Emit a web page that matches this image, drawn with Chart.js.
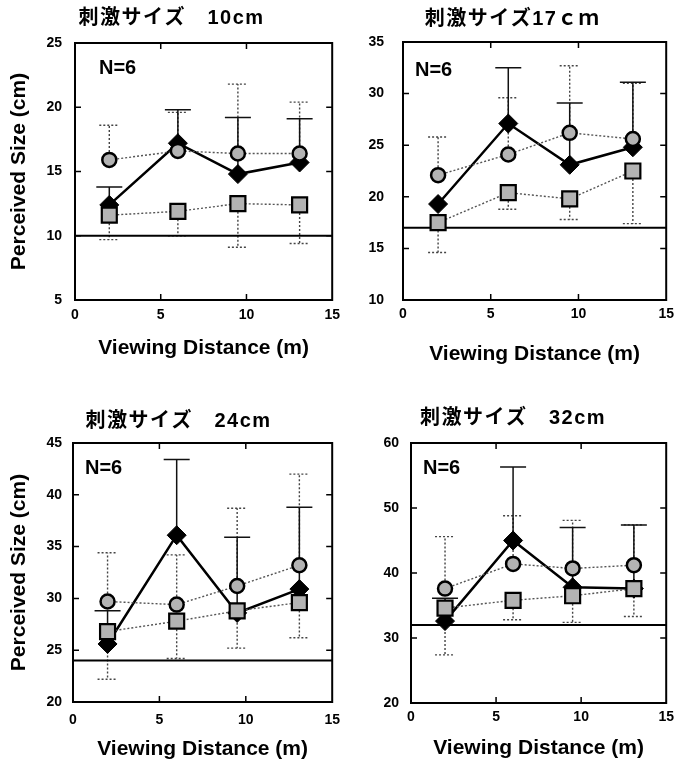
<!DOCTYPE html>
<html><head><meta charset="utf-8">
<script src="https://cdn.jsdelivr.net/npm/chart.js@4.4.1/dist/chart.umd.min.js"></script>
<style>
html,body{margin:0;padding:0;background:#fff;}
body{position:relative;width:679px;height:770px;overflow:hidden;}
canvas{position:absolute;}
</style></head><body>
<canvas id="c0" width="345" height="385" style="left:0px;top:0px"></canvas>
<canvas id="c1" width="334" height="385" style="left:345px;top:0px"></canvas>
<canvas id="c2" width="345" height="380" style="left:0px;top:390px"></canvas>
<canvas id="c3" width="334" height="380" style="left:345px;top:390px"></canvas>
<script>
// ---------------- data ----------------
const distances = [2.0, 6.0, 9.5, 13.1];
const stimulusSizes = [10, 17, 24, 32];
const panelTitles = ['刺激サイズ　10cm', '刺激サイズ17ｃｍ', '刺激サイズ　24cm', '刺激サイズ　32cm'];
const sampleLabel = 'N=6';
const xAxisTitle = 'Viewing Distance (m)';
const yAxisTitle = 'Perceived Size (cm)';
const xMin = 0, xMax = 15, xStep = 5;
const yMins = [5, 10, 20, 20];
const yMaxs = [25, 35, 45, 60];
const yStepSizes = [5, 5, 5, 10];

const circleMeans  = [[15.9, 16.6, 16.4, 16.4], [22.1, 24.1, 26.2, 25.6], [29.7, 29.4, 31.2, 33.2], [37.6, 41.4, 40.7, 41.2]];
const circleUpper  = [[18.6, 19.6, 21.8, 20.4], [25.8, 29.6, 32.7, 31.0], [34.4, 34.2, 38.7, 42.0], [45.6, 48.8, 48.1, 47.4]];
const diamondMeans = [[12.4, 17.2, 14.8, 15.7], [19.3, 27.1, 23.1, 24.8], [25.6, 36.1, 28.6, 30.9], [32.6, 45.0, 37.8, 37.6]];
const diamondUpper = [[13.8, 19.8, 19.2, 19.1], [null, 32.5, 29.1, 31.1], [28.8, 43.4, 35.9, 38.8], [36.1, 56.3, 47.0, 47.4]];
const squareMeans  = [[11.6, 11.9, 12.5, 12.4], [17.5, 20.4, 19.8, 22.5], [26.8, 27.8, 28.8, 29.6], [34.6, 35.8, 36.5, 37.6]];
const squareLower  = [[9.7, 10.0, 9.1, 9.4], [14.6, 18.8, 17.8, 17.4], [22.2, 24.2, 25.2, 26.2], [27.4, 32.8, 32.4, 33.3]];

// ---------------- layout (pixels) ----------------
const layouts = [
  {id:'c0', cx:0,   cy:0,   cw:345, ch:385, L:75,  R:335, T:43,  B:300, yTitle:true,  yPad:13, xPad:7,  xTitlePad:24, titleX:171.5, titleY:18.5, nX:24, nY:25},
  {id:'c1', cx:345, cy:0,   cw:334, ch:385, L:403, R:670, T:42,  B:300, yTitle:false, yPad:19, xPad:6,  xTitlePad:18, titleX:167.5, titleY:19.5, nX:12, nY:28},
  {id:'c2', cx:0,   cy:390, cw:345, ch:380, L:73,  R:333, T:443, B:702, yTitle:true,  yPad:11, xPad:10, xTitlePad:8.5, titleX:178.5, titleY:31.5, nX:12, nY:25},
  {id:'c3', cx:345, cy:390, cw:334, ch:380, L:411, R:675, T:443, B:703, yTitle:false, yPad:12, xPad:6,  xTitlePad:9.5, titleX:168,  titleY:28.5, nX:12, nY:25}
];

const FONT = '"Liberation Sans", Arial, "Noto Sans CJK JP", sans-serif';

const errorBarPlugin = {
  id: 'errorBars',
  beforeDatasetsDraw(chart) {
    const ctx = chart.ctx, xs = chart.scales.x, ys = chart.scales.y;
    ctx.save();
    chart.data.datasets.forEach(ds => {
      if (!ds.errorEnds) return;
      ds.data.forEach((p, j) => {
        const end = ds.errorEnds[j];
        if (end === null || end === undefined) return;
        const x = xs.getPixelForValue(p.x);
        const y0 = ys.getPixelForValue(p.y);
        const y1 = ys.getPixelForValue(end);
        ctx.strokeStyle = ds.errorColor;
        ctx.lineWidth = ds.errorWidth;
        ctx.setLineDash(ds.errorDash);
        ctx.beginPath();
        ctx.moveTo(x, y0); ctx.lineTo(x, y1);
        ctx.moveTo(x - ds.capHalf, y1); ctx.lineTo(x + ds.capHalf, y1);
        ctx.stroke();
      });
    });
    ctx.restore();
  }
};

const framePlugin = {
  id: 'frame',
  afterDraw(chart, args, opts) {
    const ctx = chart.ctx, a = chart.chartArea, xs = chart.scales.x, ys = chart.scales.y;
    ctx.save();
    ctx.strokeStyle = '#000';
    ctx.lineWidth = 2;
    ctx.setLineDash([]);
    ctx.strokeRect(a.left, a.top, a.right - a.left, a.bottom - a.top);
    ctx.lineWidth = 1.5;
    ctx.beginPath();
    ys.ticks.forEach(t => {
      if (t.value <= ys.min || t.value >= ys.max) return;
      const y = ys.getPixelForValue(t.value);
      ctx.moveTo(a.left, y); ctx.lineTo(a.left + 6, y);
      ctx.moveTo(a.right, y); ctx.lineTo(a.right - 6, y);
    });
    xs.ticks.forEach(t => {
      if (t.value <= xs.min || t.value >= xs.max) return;
      const x = xs.getPixelForValue(t.value);
      ctx.moveTo(x, a.top); ctx.lineTo(x, a.top + 6);
      ctx.moveTo(x, a.bottom); ctx.lineTo(x, a.bottom - 6);
    });
    ctx.stroke();
    // sample size label
    ctx.fillStyle = '#000';
    ctx.font = 'bold 20px ' + FONT;
    ctx.textAlign = 'left';
    ctx.textBaseline = 'middle';
    ctx.fillText(opts.nText, a.left + opts.nX, a.top + opts.nY);
    // panel title
    ctx.font = 'bold 20px ' + FONT;
    if ('letterSpacing' in ctx) ctx.letterSpacing = '1.5px';
    ctx.textAlign = 'center';
    ctx.fillText(opts.title, opts.titleX, opts.titleY);
    ctx.restore();
  }
};

layouts.forEach((lay, i) => {
  const pts = arr => arr.map((v, j) => ({x: distances[j], y: v}));
  const datasets = [
    { label: 'square', data: pts(squareMeans[i]), showLine: true,
      borderColor: '#555', borderWidth: 1.4, borderDash: [2, 2],
      pointStyle: 'rect', pointRadius: 10.6, pointBorderWidth: 2.2,
      pointBackgroundColor: '#b3b3b3', pointBorderColor: '#000',
      errorEnds: squareLower[i], errorColor: '#444', errorWidth: 1.4, errorDash: [2, 2], capHalf: 10 },
    { label: 'circle', data: pts(circleMeans[i]), showLine: true,
      borderColor: '#555', borderWidth: 1.4, borderDash: [2, 2],
      pointStyle: 'circle', pointRadius: 7, pointBorderWidth: 2.5,
      pointBackgroundColor: '#b3b3b3', pointBorderColor: '#000',
      errorEnds: circleUpper[i], errorColor: '#444', errorWidth: 1.4, errorDash: [2, 2], capHalf: 10 },
    { label: 'diamond', data: pts(diamondMeans[i]), showLine: true,
      borderColor: '#000', borderWidth: 2.5,
      pointStyle: 'rectRot', pointRadius: 9.5, pointBorderWidth: 1,
      pointBackgroundColor: '#000', pointBorderColor: '#000',
      errorEnds: diamondUpper[i], errorColor: '#111', errorWidth: 1.5, errorDash: [], capHalf: 13 },
    { label: 'stimulus', data: [{x: xMin, y: stimulusSizes[i]}, {x: xMax, y: stimulusSizes[i]}], showLine: true,
      borderColor: '#000', borderWidth: 2, pointRadius: 0 }
  ];
  new Chart(document.getElementById(lay.id), {
    type: 'scatter',
    data: { datasets },
    options: {
      responsive: false,
      animation: false,
      events: [],
      layout: { padding: { left: 0, top: lay.T - lay.cy, right: lay.cx + lay.cw - lay.R, bottom: 0 } },
      plugins: {
        legend: { display: false },
        tooltip: { enabled: false },
        frame: { nText: sampleLabel, nX: lay.nX, nY: lay.nY, title: panelTitles[i], titleX: lay.titleX, titleY: lay.titleY }
      },
      scales: {
        x: {
          type: 'linear', min: xMin, max: xMax,
          ticks: { stepSize: xStep, color: '#000', padding: lay.xPad, font: { family: FONT, size: 14, weight: 'bold' } },
          grid: { display: false, drawTicks: false },
          border: { display: false },
          title: { display: true, text: xAxisTitle, color: '#000', font: { family: FONT, size: 21, weight: 'bold' }, padding: { top: 0, bottom: lay.xTitlePad } },
          afterFit: s => { s.height = lay.cy + lay.ch - lay.B; s.paddingLeft = 0; s.paddingRight = 0; }
        },
        y: {
          type: 'linear', min: yMins[i], max: yMaxs[i],
          ticks: { stepSize: yStepSizes[i], color: '#000', padding: lay.yPad, font: { family: FONT, size: 14, weight: 'bold' } },
          grid: { display: false, drawTicks: false },
          border: { display: false },
          title: { display: lay.yTitle, text: yAxisTitle, color: '#000', font: { family: FONT, size: 21, weight: 'bold' }, padding: { top: 7, bottom: 0 } },
          afterFit: s => { s.width = lay.L - lay.cx; s.paddingTop = 0; s.paddingBottom = 0; }
        }
      }
    },
    plugins: [errorBarPlugin, framePlugin]
  });
});
</script>
</body></html>
